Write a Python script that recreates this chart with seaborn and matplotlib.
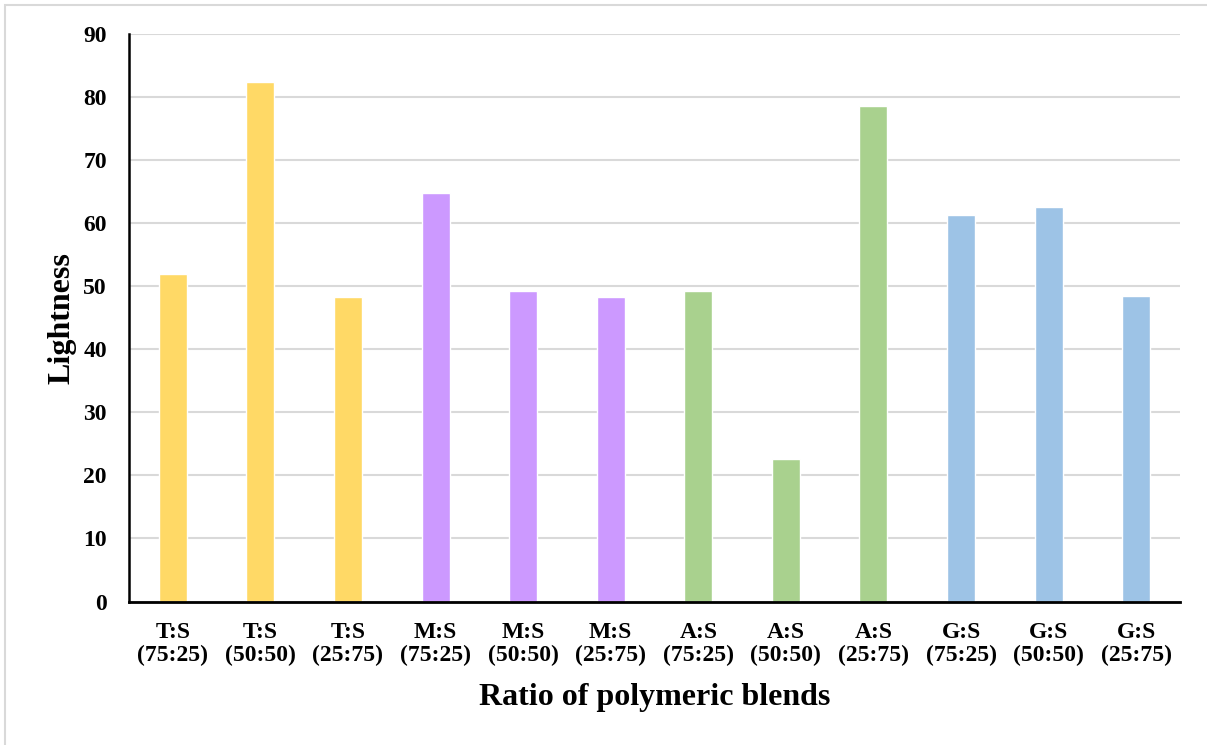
import matplotlib
matplotlib.use("Agg")
import matplotlib.pyplot as plt
from matplotlib.patches import Rectangle
import seaborn as sns
import pandas as pd

# Blend labels, groups and measured lightness values
blends = ["T:S\n(75:25)", "T:S\n(50:50)", "T:S\n(25:75)",
          "M:S\n(75:25)", "M:S\n(50:50)", "M:S\n(25:75)",
          "A:S\n(75:25)", "A:S\n(50:50)", "A:S\n(25:75)",
          "G:S\n(75:25)", "G:S\n(50:50)", "G:S\n(25:75)"]
groups = ["T", "T", "T", "M", "M", "M", "A", "A", "A", "G", "G", "G"]
lightness = [52.0, 82.4, 48.3, 64.8, 49.3, 48.3, 49.3, 22.6, 78.6, 61.3, 62.6, 48.5]
group_colors = {"T": "#FFD966", "M": "#CC99FF", "A": "#A9D18E", "G": "#9DC3E6"}
y_ticks = [0, 10, 20, 30, 40, 50, 60, 70, 80, 90]

sns.set_theme(style="white")
plt.rcParams["font.family"] = ["Liberation Serif", "DejaVu Serif"]
plt.rcParams["font.weight"] = "bold"
plt.rcParams["text.color"] = "black"
plt.rcParams["axes.labelcolor"] = "black"
plt.rcParams["xtick.color"] = "black"
plt.rcParams["ytick.color"] = "black"

df = pd.DataFrame({"blend": blends, "group": groups, "lightness": lightness})

fig = plt.figure(figsize=(12.07, 7.45), dpi=100)
ax = fig.add_axes([0.1069, 0.1926, 0.8707, 0.7614])

sns.barplot(data=df, x="blend", y="lightness", hue="group", palette=group_colors,
            dodge=False, width=0.32, saturation=1, legend=False, ax=ax, zorder=3)

ax.set_ylim(0, 90)
ax.set_yticks(y_ticks)
ax.set_xlim(-0.5, len(blends) - 0.5)
ax.yaxis.grid(True, color="#D9D9D9", linewidth=1.5, zorder=0)
ax.xaxis.grid(False)
ax.set_axisbelow(True)

for side in ["top", "right"]:
    ax.spines[side].set_visible(False)
ax.spines["left"].set_color("black")
ax.spines["left"].set_linewidth(1.8)
ax.spines["bottom"].set_color("black")
ax.spines["bottom"].set_linewidth(2.0)
ax.spines["left"].set_zorder(4)
ax.spines["bottom"].set_zorder(4)

ax.tick_params(axis="both", length=0, colors="black")
ax.tick_params(axis="y", labelsize=17, pad=16)
ax.tick_params(axis="x", labelsize=17, pad=15)
for lab in ax.get_xticklabels() + ax.get_yticklabels():
    lab.set_fontweight("bold")
    lab.set_color("black")
for lab in ax.get_xticklabels():
    lab.set_linespacing(1.1)

ax.set_xlabel("Ratio of polymeric blends", fontsize=23, fontweight="bold",
              labelpad=12, color="black")
ax.set_ylabel("Lightness", fontsize=23, fontweight="bold", labelpad=5, color="black")

# thin light frame around the chart area
fig.patches.append(Rectangle((5 / 1207, -0.1), 1.2, 1 - 5 / 745 + 0.1,
                             transform=fig.transFigure, fill=False,
                             edgecolor="#D9D9D9", linewidth=1.5))

fig.savefig("out.png", dpi=100, facecolor="white")
